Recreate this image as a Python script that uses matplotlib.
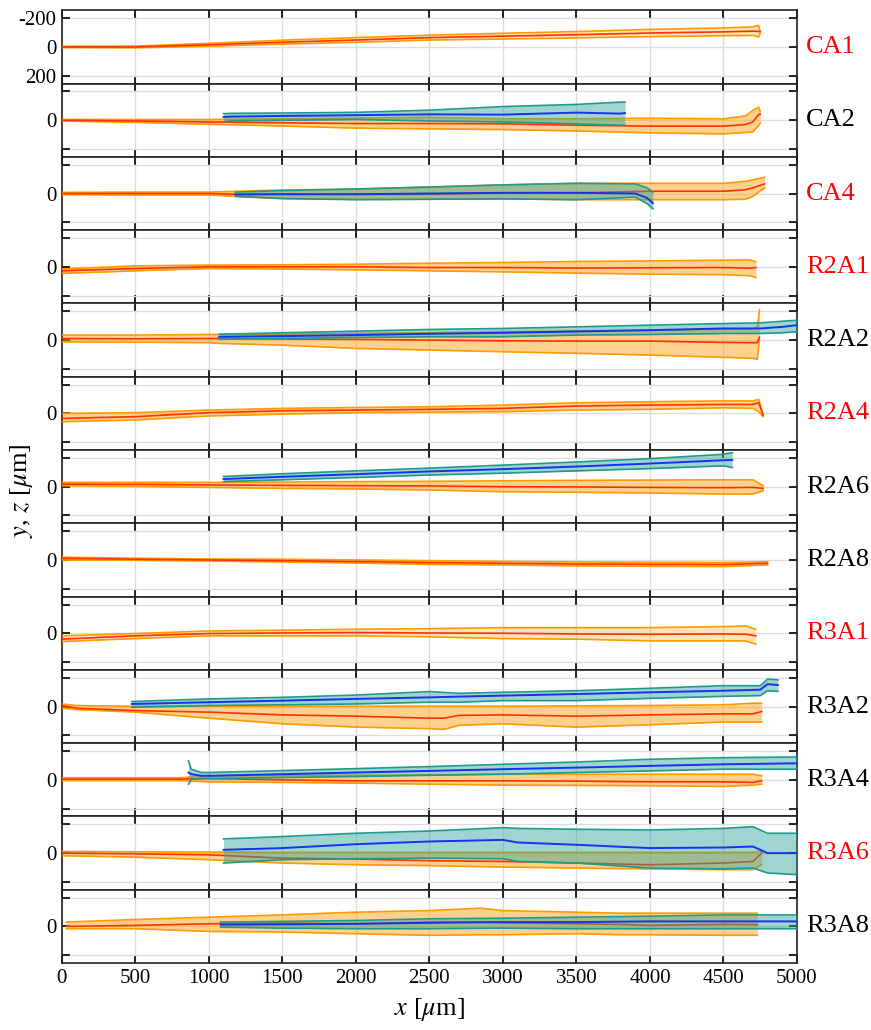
"""Stacked y/z trajectory bands for each probe, orange = y, teal = z."""
import matplotlib
matplotlib.use("Agg")
import matplotlib.pyplot as plt

plt.rcParams["font.family"] = ["Liberation Serif", "DejaVu Serif"]
plt.rcParams["mathtext.fontset"] = "stix"

# ---- data (um) ----
names = ["CA1", "CA2", "CA4", "R2A1", "R2A2", "R2A4", "R2A6", "R2A8",
         "R3A1", "R3A2", "R3A4", "R3A6", "R3A8"]
name_colors = ["red", "black", "red", "red", "black", "red", "black", "black",
               "red", "black", "black", "red", "black"]

ca1_x = [0, 500, 1000, 1500, 2000, 2500, 3000, 3500, 4000, 4500, 4700, 4740, 4750]
ca1_y = [0, 0, -15, -33, -48, -65, -75, -85, -97, -105, -110, -108, -108]
ca1_lo = [-5, -6, -25, -47, -65, -82, -95, -107, -122, -132, -140, -150, -100]
ca1_hi = [5, 6, -5, -20, -32, -48, -55, -63, -72, -78, -80, -70, -100]

ca2_x = [0, 500, 1000, 1500, 2000, 2500, 3000, 3500, 4000, 4500, 4650, 4700, 4740, 4750]
ca2_y = [0, 5, 12, 18, 23, 23, 25, 35, 41, 41, 30, 12, -41, -41]
ca2_lo = [-5, -5, -5, -10, -15, -20, -10, -10, -14, -10, -30, -69, -90, -60]
ca2_hi = [5, 15, 28, 40, 55, 60, 65, 75, 88, 95, 85, 81, 35, 20]
ca2_zx = [1100, 1150, 1500, 2000, 2500, 3000, 3500, 3800, 3830]
ca2_z = [-23, -25, -30, -35, -41, -39, -53, -46, -50]
ca2_zlo = [-46, -48, -50, -55, -70, -95, -110, -126, -126]
ca2_zhi = [12, 5, 0, -5, 5, 12, 25, 35, 35]

ca4_x = [0, 500, 1000, 1180, 1500, 2000, 2500, 3000, 3500, 4000, 4500, 4650, 4700, 4780]
ca4_y = [0, 0, 0, 5, 5, 5, 5, -5, -5, -16, -16, -26, -40, -67]
ca4_lo = [-8, -10, -10, -15, -25, -30, -45, -60, -71, -71, -71, -85, -95, -113]
ca4_hi = [8, 10, 10, 20, 35, 40, 40, 37, 43, 43, 43, 40, 20, -40]
ca4_zx = [1180, 1500, 2000, 2500, 3000, 3500, 3900, 3980, 4020]
ca4_z = [7, 5, 5, 0, -5, -5, 0, 30, 67]
ca4_zlo = [-10, -20, -32, -45, -60, -71, -67, -40, -10]
ca4_zhi = [20, 35, 43, 40, 37, 43, 25, 70, 106]

r2a1_x = [0, 500, 1000, 1500, 2000, 2500, 3000, 3500, 4000, 4500, 4680, 4720]
r2a1_y = [28, 12, 0, 0, 0, 5, 5, 9, 7, 5, 10, 5]
r2a1_lo = [16, -7, -12, -14, -18, -25, -30, -37, -41, -46, -48, -35]
r2a1_hi = [46, 28, 12, 16, 21, 28, 35, 44, 51, 55, 62, 74]

r2a2_x = [0, 500, 1000, 1070, 1500, 2000, 2500, 3000, 3500, 4000, 4500, 4700, 4730, 4745]
r2a2_y = [-11, -9, -11, -11, -7, -5, 0, 5, 7, 7, 16, 18, 18, -20]
r2a2_lo = [-35, -35, -39, -39, -41, -46, -51, -58, -64, -69, -74, -78, -90, -212]
r2a2_hi = [12, 14, 18, 23, 35, 58, 69, 81, 92, 104, 120, 127, 133, 0]
r2a2_zx = [1070, 1500, 2000, 2500, 3000, 3500, 4000, 4500, 4750, 4900, 5000]
r2a2_z = [-23, -28, -35, -44, -51, -60, -69, -81, -81, -92, -104]
r2a2_zlo = [-41, -51, -62, -74, -81, -92, -104, -115, -120, -131, -138]
r2a2_zhi = [-7, -12, -18, -23, -23, -35, -39, -46, -46, -51, -58]

r2a4_x = [0, 500, 1000, 1500, 2000, 2500, 3000, 3500, 4000, 4500, 4700, 4740, 4770]
r2a4_y = [35, 23, -5, -18, -23, -28, -35, -51, -58, -62, -62, -74, 12]
r2a4_lo = [0, -5, -23, -35, -41, -46, -58, -74, -81, -87, -87, -97, 12]
r2a4_hi = [58, 46, 18, 5, -5, -9, -12, -23, -28, -39, -35, -12, 23]

r2a6_x = [0, 500, 1000, 1500, 2000, 2500, 3000, 3500, 4000, 4500, 4700, 4770]
r2a6_y = [-18, -16, -12, -9, -7, -5, 0, 2, 5, 7, 5, 12]
r2a6_lo = [-30, -30, -30, -32, -35, -37, -41, -44, -46, -48, -48, -7]
r2a6_hi = [-7, -2, 5, 12, 16, 23, 35, 39, 44, 51, 51, 28]
r2a6_zx = [1100, 1500, 2000, 2500, 3000, 3500, 4000, 4500, 4560]
r2a6_z = [-53, -69, -87, -106, -122, -140, -161, -184, -186]
r2a6_zlo = [-71, -90, -110, -129, -150, -172, -195, -225, -237]
r2a6_zhi = [-35, -48, -64, -81, -94, -110, -126, -145, -133]

r2a8_x = [0, 500, 1000, 1500, 2000, 2500, 3000, 3500, 4000, 4500, 4800]
r2a8_y = [-11, -5, 0, 5, 11, 18, 23, 28, 30, 32, 23]
r2a8_lo = [-20, -12, -7, -5, 0, 5, 10, 14, 16, 18, 12]
r2a8_hi = [0, 2, 7, 14, 21, 30, 35, 41, 44, 46, 35]

r3a1_x = [0, 500, 1000, 1500, 2000, 2500, 3000, 3500, 4000, 4500, 4650, 4720]
r3a1_y = [41, 18, 2, -2, -5, -2, 0, 5, 7, 5, 7, 18]
r3a1_lo = [18, 2, -16, -21, -28, -32, -39, -39, -39, -46, -51, -28]
r3a1_hi = [58, 37, 18, 18, 18, 25, 37, 41, 53, 53, 53, 76]

r3a2_x = [0, 100, 500, 1000, 1500, 2000, 2500, 2600, 2700, 3000, 3500, 4000, 4500, 4700, 4760]
r3a2_y = [-7, 12, 28, 39, 58, 67, 81, 81, 62, 58, 67, 58, 51, 51, 35]
r3a2_lo = [-18, -7, -2, -2, -2, -2, -2, -2, -2, -2, -5, -7, -12, -23, -23]
r3a2_hi = [12, 21, 39, 81, 120, 143, 154, 159, 131, 120, 143, 127, 108, 108, 108]
r3a2_zx = [476, 1000, 1500, 2000, 2500, 2700, 3000, 3500, 4000, 4500, 4750, 4800, 4870]
r3a2_z = [-18, -30, -41, -53, -64, -69, -76, -87, -99, -110, -117, -156, -150]
r3a2_zlo = [-35, -53, -64, -80, -104, -92, -99, -110, -127, -145, -145, -191, -186]
r3a2_zhi = [5, -7, -12, -18, -30, -30, -41, -41, -57, -71, -76, -110, -106]

r3a4_x = [0, 500, 800, 1000, 1500, 2000, 2500, 3000, 3500, 4000, 4500, 4700, 4760]
r3a4_y = [-5, -5, -5, -9, 0, 7, 7, 7, 9, 14, 14, 18, 7]
r3a4_lo = [-14, -14, -14, -28, -30, -32, -35, -39, -39, -39, -39, -39, -28]
r3a4_hi = [5, 5, 5, 14, 18, 23, 30, 37, 39, 41, 46, 37, 30]
r3a4_zx = [862, 880, 950, 1000, 1500, 2000, 2500, 3000, 3500, 4000, 4500, 5000]
r3a4_z = [-51, -39, -28, -28, -39, -51, -62, -74, -85, -97, -108, -115]
r3a4_zlo = [-131, -74, -51, -51, -64, -78, -92, -108, -124, -143, -154, -159]
r3a4_zhi = [30, -5, -9, -9, -16, -23, -32, -39, -51, -62, -74, -74]

r3a6_x = [0, 500, 1000, 1500, 2000, 2500, 3000, 3500, 4000, 4500, 4700, 4760]
r3a6_y = [0, 5, 12, 35, 41, 53, 58, 69, 81, 69, 58, 0]
r3a6_lo = [-12, -9, -7, -5, -5, -5, -5, -5, -5, -5, -5, -12]
r3a6_hi = [18, 28, 46, 69, 81, 87, 97, 104, 110, 115, 115, 81]
r3a6_zx = [1100, 1500, 2000, 2500, 3000, 3100, 3500, 4000, 4500, 4700, 4800, 5000]
r3a6_z = [-23, -35, -62, -81, -92, -74, -58, -35, -39, -46, 0, 0]
r3a6_zlo = [-99, -115, -138, -154, -177, -172, -166, -161, -172, -184, -138, -138]
r3a6_zhi = [69, 46, 39, 35, 39, 58, 69, 104, 110, 104, 138, 150]

r3a8_x = [30, 500, 1000, 1500, 2000, 2500, 2850, 3000, 3500, 3800, 4000, 4500, 4730]
r3a8_y = [0, -7, -18, -23, -18, -30, -30, -25, -18, -14, -7, -14, -12]
r3a8_lo = [-30, -48, -64, -80, -99, -110, -127, -110, -99, -92, -92, -92, -92]
r3a8_hi = [16, 16, 35, 39, 51, 62, 58, 58, 51, 58, 58, 62, 62]
r3a8_zx = [1080, 1500, 2000, 2500, 3000, 3500, 4000, 4500, 5000]
r3a8_z = [-12, -14, -18, -25, -30, -30, -35, -35, -35]
r3a8_zlo = [-30, -35, -41, -53, -57, -64, -71, -80, -80]
r3a8_zhi = [5, 12, 16, 16, 12, 16, 16, 16, 16]

y_series = [
    (ca1_x, ca1_y, ca1_lo, ca1_hi), (ca2_x, ca2_y, ca2_lo, ca2_hi),
    (ca4_x, ca4_y, ca4_lo, ca4_hi), (r2a1_x, r2a1_y, r2a1_lo, r2a1_hi),
    (r2a2_x, r2a2_y, r2a2_lo, r2a2_hi), (r2a4_x, r2a4_y, r2a4_lo, r2a4_hi),
    (r2a6_x, r2a6_y, r2a6_lo, r2a6_hi), (r2a8_x, r2a8_y, r2a8_lo, r2a8_hi),
    (r3a1_x, r3a1_y, r3a1_lo, r3a1_hi), (r3a2_x, r3a2_y, r3a2_lo, r3a2_hi),
    (r3a4_x, r3a4_y, r3a4_lo, r3a4_hi), (r3a6_x, r3a6_y, r3a6_lo, r3a6_hi),
    (r3a8_x, r3a8_y, r3a8_lo, r3a8_hi),
]
z_series = [
    None, (ca2_zx, ca2_z, ca2_zlo, ca2_zhi), (ca4_zx, ca4_z, ca4_zlo, ca4_zhi),
    None, (r2a2_zx, r2a2_z, r2a2_zlo, r2a2_zhi), None,
    (r2a6_zx, r2a6_z, r2a6_zlo, r2a6_zhi), None, None,
    (r3a2_zx, r3a2_z, r3a2_zlo, r3a2_zhi), (r3a4_zx, r3a4_z, r3a4_zlo, r3a4_zhi),
    (r3a6_zx, r3a6_z, r3a6_zlo, r3a6_zhi), (r3a8_zx, r3a8_z, r3a8_zlo, r3a8_zhi),
]
light_panels = {"CA1", "R3A1"}

ORANGE_FILL = "#ffa51f"
ORANGE_EDGE = "#ff9a00"
RED = "#ff3300"
TEAL_FILL = "#2aa198"
TEAL_EDGE = "#1f9a8c"
BLUE = "#1533ee"

fig, axes = plt.subplots(len(names), 1, figsize=(8.71, 10.30), dpi=100, sharex=True)
fig.subplots_adjust(left=0.071, right=0.915, top=0.990, bottom=0.065, hspace=0)

for i, ax in enumerate(axes):
    xs, ys, lo, hi = y_series[i]
    alpha = 0.3 if names[i] in light_panels else 0.5
    ax.fill_between(xs, lo, hi, color=ORANGE_FILL, alpha=alpha, lw=0, zorder=2)
    ax.plot(xs, lo, color=ORANGE_EDGE, lw=1.2, zorder=3)
    ax.plot(xs, hi, color=ORANGE_EDGE, lw=1.2, zorder=3)
    ax.plot(xs, ys, color=RED, lw=1.2, zorder=4)

    if z_series[i] is not None:
        zx, zs, zlo, zhi = z_series[i]
        ax.fill_between(zx, zlo, zhi, color=TEAL_FILL, alpha=0.45, lw=0, zorder=5)
        ax.plot(zx, zlo, color=TEAL_EDGE, lw=1.2, zorder=6)
        ax.plot(zx, zhi, color=TEAL_EDGE, lw=1.2, zorder=6)
        ax.plot(zx, zs, color=BLUE, lw=1.4, zorder=7)

    ax.set_xlim(0, 5000)
    ax.set_ylim(255, -255)
    ax.set_yticks([-200, 0, 200])
    if i == 0:
        ax.set_yticklabels(["-200", "0", "200"])
    else:
        ax.set_yticklabels(["", "0", ""])
    ax.set_xticks(range(0, 5001, 500))
    ax.tick_params(direction="in", top=True, right=True, length=6, width=1.2,
                   labelsize=15, pad=4)
    ax.grid(True, color="#dddddd", lw=1.0, zorder=0)
    for s in ax.spines.values():
        s.set_linewidth(1.2)
        s.set_color("#222222")
    ax.text(1.012, 0.5, names[i], transform=ax.transAxes, color=name_colors[i],
            fontsize=19, va="center", ha="left")

axes[-1].set_xlabel(r"$x$ [$\mu$m]", fontsize=19, labelpad=6)
fig.text(0.025, 0.523, r"$y$, $z$ [$\mu$m]", rotation=90, fontsize=19,
         va="center", ha="center")

plt.savefig("out.png", dpi=100)
plt.close()
